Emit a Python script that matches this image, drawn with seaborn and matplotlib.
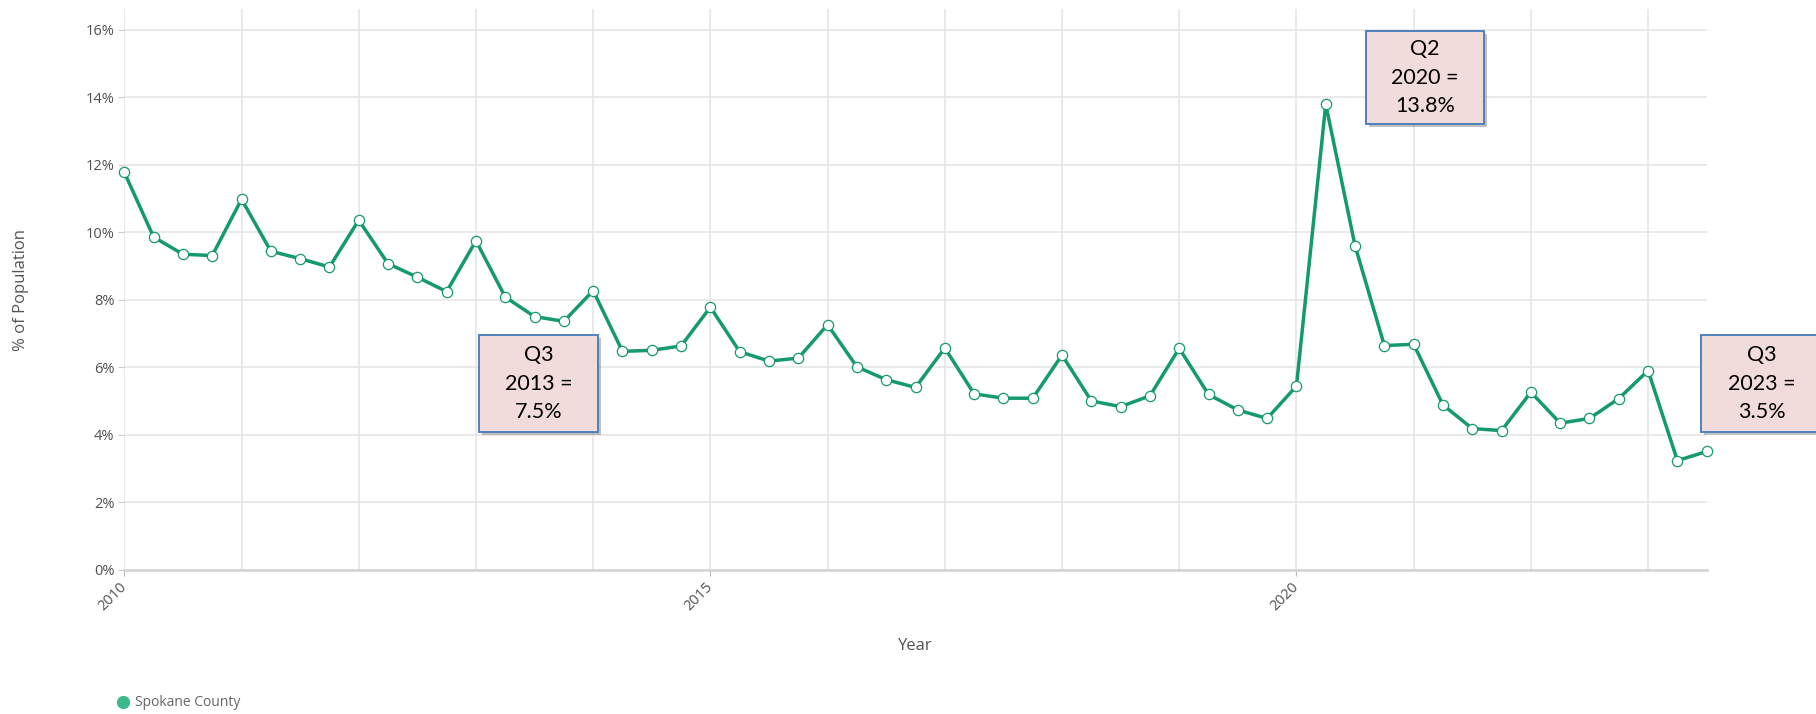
import numpy as np
import pandas as pd
import matplotlib
matplotlib.use("Agg")
import matplotlib.pyplot as plt
import matplotlib.patheffects as pe
from matplotlib.patches import Rectangle
from matplotlib.lines import Line2D
import seaborn as sns

# Quarterly unemployment rate, Spokane County (% of population)
years = list(range(2010, 2024))
quarters = ["Q1", "Q2", "Q3", "Q4"]
rate = [
    11.78, 9.86, 9.35, 9.31,   # 2010
    10.98, 9.44, 9.22, 8.97,   # 2011
    10.36, 9.07, 8.67, 8.24,   # 2012
    9.75, 8.08, 7.5, 7.36,     # 2013
    8.27, 6.47, 6.50, 6.63,    # 2014
    7.78, 6.46, 6.18, 6.27,    # 2015
    7.26, 6.01, 5.63, 5.40,    # 2016
    6.57, 5.21, 5.08, 5.08,    # 2017
    6.36, 5.00, 4.83, 5.15,    # 2018
    6.56, 5.19, 4.73, 4.48,    # 2019
    5.44, 13.8, 9.60, 6.64,    # 2020
    6.68, 4.88, 4.18, 4.12,    # 2021
    5.26, 4.34, 4.48, 5.07,    # 2022
    5.90, 3.23, 3.5,           # 2023
]
series_name = "Spokane County"
y_ticks = [0, 2, 4, 6, 8, 10, 12, 14, 16]
x_label_years = [2010, 2015, 2020]

# Callouts: (year, quarter) and box geometry in pixels (left, top, width, height)
callouts = [
    ((2013, "Q3"), (479, 335, 119, 97)),
    ((2020, "Q2"), (1366, 31, 118, 93)),
    ((2023, "Q3"), (1701, 335, 119, 97)),
]

rows = []
i = 0
for y in years:
    for qi, q in enumerate(quarters):
        if i < len(rate):
            rows.append({"year": y, "quarter": q, "t": y + qi / 4, "rate": rate[i]})
            i += 1
df = pd.DataFrame(rows)

W, H = 1816, 714
sns.set_theme(style="whitegrid")
plt.rcParams["font.family"] = ["Open Sans", "DejaVu Sans"]

fig = plt.figure(figsize=(W / 100, H / 100), dpi=100)
ax = fig.add_axes([124.3 / W, 1 - 569.5 / H, (1706.7 - 124.3) / W, (569.5 - 9) / H])

line_color = "#149a6b"
sns.lineplot(data=df, x="t", y="rate", ax=ax, color=line_color, linewidth=2.5,
             marker="o", markersize=7.4, markerfacecolor="white",
             markeredgecolor=line_color, markeredgewidth=0.9, zorder=5)
for ln in ax.lines:
    ln.set_clip_on(False)

ax.set_xlim(2010, 2023.5)
ax.set_ylim(0, 16 + 21 / 33.72)

ax.set_yticks(y_ticks)
ax.set_yticklabels([f"{v}%" for v in y_ticks])
ax.set_xticks(x_label_years)
ax.set_xticklabels([str(v) for v in x_label_years], rotation=45, ha="right",
                   va="center", rotation_mode="anchor")
ax.set_xticks(years, minor=True)

ax.grid(True, which="both", axis="x", color="#e4e4e4", linewidth=1.1)
ax.grid(True, which="major", axis="y", color="#e4e4e4", linewidth=1.1)
ax.set_axisbelow(True)

for side in ["top", "right", "left"]:
    ax.spines[side].set_visible(False)
ax.spines["bottom"].set_color("#d4d4d4")
ax.spines["bottom"].set_linewidth(1.8)

ax.tick_params(axis="y", which="major", length=4, width=0.8, color="#cccccc",
               labelsize=10.5, labelcolor="#505050", pad=3, left=True)
ax.tick_params(axis="x", which="major", length=4, width=0.8, color="#bbbbbb",
               labelsize=10.5, labelcolor="#505050", pad=7, bottom=True)
ax.tick_params(axis="x", which="minor", length=0)

ax.set_xlabel("")
ax.set_ylabel("")
fig.text(915 / W, 1 - 646 / H, "Year", ha="center", va="center",
         fontsize=12, color="#555555")
fig.text(21 / W, 1 - 290 / H, "% of Population", ha="center", va="center",
         rotation=90, fontsize=12, color="#555555")

# Legend
handle = Line2D([], [], marker="o", linestyle="none", markersize=8.5,
                markerfacecolor="#3cb98a", markeredgecolor="#3cb98a")
fig.legend(handles=[handle], labels=[series_name], loc="center left",
           bbox_to_anchor=(116 / W, 1 - 703 / H), frameon=False,
           handlelength=1.0, handletextpad=0.4, borderpad=0, borderaxespad=0,
           fontsize=10, labelcolor="#666666")

# Callout boxes
shadow = [pe.SimplePatchShadow(offset=(2.5, -2.5), shadow_rgbFace="#666666", alpha=0.4),
          pe.Normal()]
for (yr, q), (bx, by, bw, bh) in callouts:
    val = df.loc[(df["year"] == yr) & (df["quarter"] == q), "rate"].iloc[0]
    rect = Rectangle((bx / W, 1 - (by + bh) / H), bw / W, bh / H,
                     transform=fig.transFigure, facecolor="#f2dcdb",
                     edgecolor="#4f81bd", linewidth=1.4, path_effects=shadow,
                     zorder=10)
    fig.add_artist(rect)
    lines = [q, f"{yr} =", f"{val:.1f}%"]
    cx = bx + bw / 2
    if bx + bw > W:
        cx = 1761.5
    for k, txt in enumerate(lines):
        cy = by + bh / 2 + (k - 1) * 28.5
        fig.text(cx / W, 1 - cy / H, txt, ha="center", va="center",
                 fontsize=15.5, color="black", family=["Lato", "DejaVu Sans"],
                 zorder=11)

fig.savefig("out.png", dpi=100, facecolor="white")
